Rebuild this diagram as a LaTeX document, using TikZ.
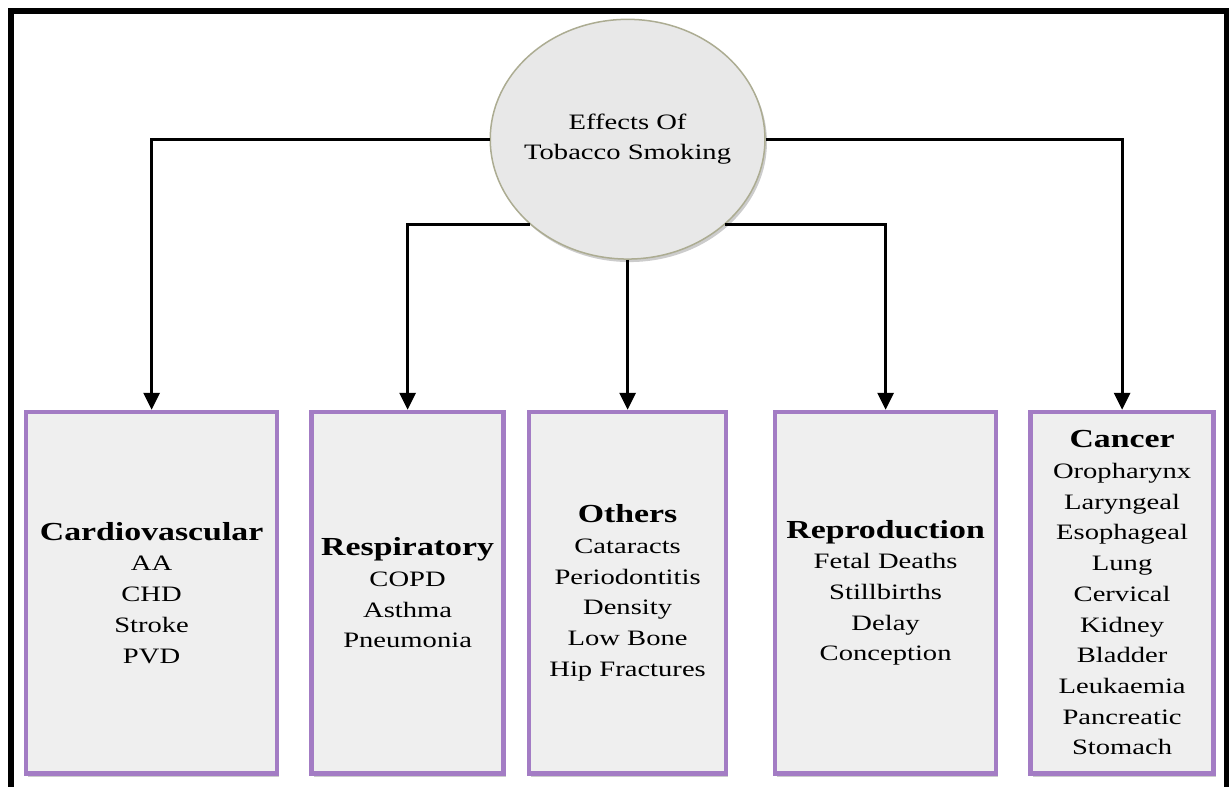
\documentclass[tikz,border=0pt]{standalone}
\usepackage{fontspec}
\setmainfont[FakeStretch=1.3]{Liberation Serif}
\usetikzlibrary{shapes.geometric, arrows.meta, positioning, shadows}
\definecolor{boxfill}{RGB}{239,239,239}
\definecolor{boxline}{RGB}{163,124,196}
\definecolor{ovalfill}{RGB}{232,232,232}
\definecolor{ovalline}{RGB}{172,172,146}
\tikzstyle{arrow} = [line width=3pt, -{Triangle[width=16pt,length=17pt]}]
\tikzstyle{frame} = [line width=5.5pt, black]
\tikzstyle{effect} = [rectangle, minimum height=361.5pt, align=center, text centered, draw=boxline, line width=4.5pt, fill=boxfill, drop shadow={shadow xshift=2pt, shadow yshift=-3pt, fill=black!40, opacity=0.5}, font=\fontsize{22}{30.7}\selectfont]
\tikzstyle{topic} = [ellipse, minimum width=274.7pt, minimum height=239.7pt, inner xsep=-40pt, align=center, draw=ovalline, line width=1.5pt, fill=ovalfill, drop shadow={shadow xshift=2pt, shadow yshift=-3pt, fill=black!40, opacity=0.5}, font=\fontsize{22}{30.7}\selectfont]
\newcommand{\hd}[1]{{\fontsize{26}{30.7}\selectfont\bfseries #1}}

\begin{document}
\begin{tikzpicture}[x=1pt, y=-1pt]
\useasboundingbox (0,0) rectangle (1229,787);

% outer frame
\draw [frame] (11,787) -- (11,11) -- (1226.5,11) -- (1226.5,787);

% main topic
\node (effects) [topic] at (627.6,139.2) {Effects Of\\Tobacco Smoking};

% effect groups
\node (others) [effect, minimum width=197pt, below=150pt of effects] {\hd{Others}\\Cataracts\\Periodontitis\\Density\\Low Bone\\Hip Fractures};
\node (resp) [effect, minimum width=192pt, left=21pt of others] {\hd{Respiratory}\\COPD\\Asthma\\Pneumonia};
\node (cardio) [effect, minimum width=251pt, left=30pt of resp] {\hd{Cardiovascular}\\AA\\CHD\\Stroke\\PVD};
\node (repro) [effect, minimum width=221pt, right=44.5pt of others] {\hd{Reproduction}\\Fetal Deaths\\Stillbirths\\Delay\\Conception};
\node (cancer) [effect, minimum width=183pt, right=30pt of repro] {\hd{Cancer}\\Oropharynx\\Laryngeal\\Esophageal\\Lung\\Cervical\\Kidney\\Bladder\\Leukaemia\\Pancreatic\\Stomach};

% connections
\draw [arrow] (effects.west) -| (cardio.north);
\draw [arrow] (effects.south west) -| (resp.north);
\draw [arrow] (effects.south) -- (others.north);
\draw [arrow] (effects.south east) -| (repro.north);
\draw [arrow] (effects.east) -| (cancer.north);

\end{tikzpicture}
\end{document}
